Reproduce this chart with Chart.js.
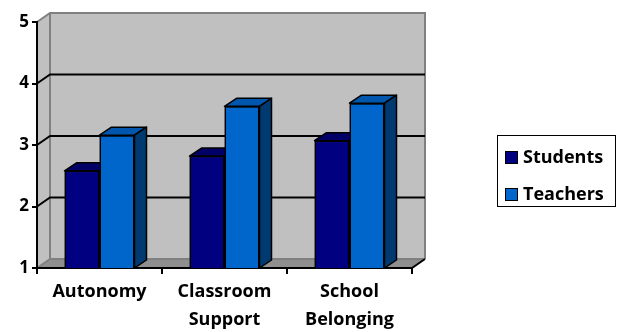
<!DOCTYPE html>
<html>
<head>
<meta charset="utf-8">
<script src="https://cdn.jsdelivr.net/npm/chart.js@4.4.0/dist/chart.umd.min.js"></script>
<style>
    body { margin: 0; background: #fff; }
    #wrap { position: relative; width: 622px; height: 332px; }
    #legend {
        position: absolute; left: 497px; top: 135px; width: 117px; height: 70px;
        border: 1.5px solid #000; font: bold 18px "Open Sans", sans-serif; color: #000;
    }
    #legend .item { position: absolute; left: 7px; height: 20px; line-height: 20px; white-space: nowrap; }
    #legend .box { display: inline-block; width: 11px; height: 11px; border: 1.5px solid #000; margin-right: 5px; vertical-align: -1px; }
</style>
</head>
<body>
<div id="wrap">
    <canvas id="chart" width="622" height="332"></canvas>
    <div id="legend"></div>
</div>
<script>
// Data
const categories = [['Autonomy'], ['Classroom', 'Support'], ['School', 'Belonging']];
const studentScores = [2.58, 2.82, 3.07];
const teacherScores = [3.16, 3.63, 3.68];
const yMin = 1;
const yMax = 5;

// Colours: front, top, side
const seriesColors = [
    { label: 'Students', front: '#000080', top: '#000066', side: '#00004d' },
    { label: 'Teachers', front: '#0066cc', top: '#0057ad', side: '#003a70' },
];

// depth of the box and of the bars
const WALL_DX = 13, WALL_DY = -9;
const BAR_DX = 12, BAR_DY = -8;

function poly(ctx, pts, fill, stroke, lw) {
    ctx.beginPath();
    ctx.moveTo(pts[0][0], pts[0][1]);
    for (let i = 1; i < pts.length; i++) ctx.lineTo(pts[i][0], pts[i][1]);
    ctx.closePath();
    if (fill) { ctx.fillStyle = fill; ctx.fill(); }
    if (stroke) { ctx.strokeStyle = stroke; ctx.lineWidth = lw; ctx.lineJoin = 'round'; ctx.stroke(); }
}

// Back wall, side wall, floor and grid lines
const wallsPlugin = {
    id: 'walls',
    beforeDraw(chart) {
        const ctx = chart.ctx;
        const { left, right, top, bottom } = chart.chartArea;
        const y = chart.scales.y;
        ctx.save();
        // back wall
        poly(ctx, [[left + WALL_DX, top + WALL_DY], [right + WALL_DX, top + WALL_DY],
            [right + WALL_DX, bottom + WALL_DY], [left + WALL_DX, bottom + WALL_DY]], '#c0c0c0');
        // left wall
        poly(ctx, [[left, top], [left + WALL_DX, top + WALL_DY],
            [left + WALL_DX, bottom + WALL_DY], [left, bottom]], '#c0c0c0');
        // floor
        poly(ctx, [[left, bottom], [right, bottom],
            [right + WALL_DX, bottom + WALL_DY], [left + WALL_DX, bottom + WALL_DY]], '#8f8f8f');
        // gray edges
        ctx.strokeStyle = '#808080';
        ctx.lineWidth = 2;
        ctx.beginPath();
        ctx.moveTo(left, top);
        ctx.lineTo(left + WALL_DX, top + WALL_DY);
        ctx.lineTo(right + WALL_DX, top + WALL_DY);
        ctx.lineTo(right + WALL_DX, bottom + WALL_DY);
        ctx.moveTo(left + WALL_DX, top + WALL_DY);
        ctx.lineTo(left + WALL_DX, bottom + WALL_DY);
        ctx.lineTo(left, bottom);
        ctx.moveTo(left + WALL_DX, bottom + WALL_DY);
        ctx.lineTo(right + WALL_DX, bottom + WALL_DY);
        ctx.stroke();
        // grid lines on the walls
        ctx.strokeStyle = '#000';
        ctx.lineWidth = 2;
        y.ticks.forEach((t) => {
            if (t.value <= yMin || t.value >= yMax) return;
            const py = y.getPixelForValue(t.value);
            ctx.beginPath();
            ctx.moveTo(left, py);
            ctx.lineTo(left + WALL_DX, py + WALL_DY);
            ctx.lineTo(right + WALL_DX, py + WALL_DY);
            ctx.stroke();
        });
        // right end of the floor
        ctx.beginPath();
        ctx.moveTo(right, bottom);
        ctx.lineTo(right + WALL_DX, bottom + WALL_DY);
        ctx.stroke();
        ctx.restore();
    },
};

// Redraw bars in order with their top and side faces
const bars3dPlugin = {
    id: 'bars3d',
    afterDatasetsDraw(chart) {
        const ctx = chart.ctx;
        const area = chart.chartArea;
        ctx.save();
        ctx.beginPath();
        ctx.rect(0, 0, chart.width, area.bottom);
        ctx.clip();
        const metas = chart.data.datasets.map((d, i) => chart.getDatasetMeta(i));
        for (let c = 0; c < categories.length; c++) {
            metas.forEach((meta, i) => {
                const el = meta.data[c];
                const col = seriesColors[i];
                const l = el.x - el.width / 2;
                const r = el.x + el.width / 2;
                const t = el.y;
                const b = Math.min(el.base, area.bottom);
                el.draw(ctx);
                poly(ctx, [[l, t], [r, t], [r + BAR_DX, t + BAR_DY], [l + BAR_DX, t + BAR_DY]], col.top, '#000', 1.5);
                poly(ctx, [[r, t], [r + BAR_DX, t + BAR_DY], [r + BAR_DX, b + BAR_DY], [r, b]], col.side, '#000', 1.5);
            });
        }
        ctx.restore();
    },
};

const tickFont = { family: 'Open Sans', weight: 'bold', size: 18, lineHeight: 1.55 };

new Chart(document.getElementById('chart'), {
    type: 'bar',
    data: {
        labels: categories,
        datasets: [
            {
                label: seriesColors[0].label,
                data: studentScores,
                backgroundColor: seriesColors[0].front,
                borderColor: '#000',
                borderWidth: 1.5,
            },
            {
                label: seriesColors[1].label,
                data: teacherScores,
                backgroundColor: seriesColors[1].front,
                borderColor: '#000',
                borderWidth: 1.5,
            },
        ],
    },
    options: {
        responsive: false,
        animation: false,
        layout: { padding: { left: 0, top: 22, right: 210, bottom: 0 } },
        plugins: {
            legend: { display: false },
            tooltip: { enabled: false },
        },
        datasets: {
            bar: { categoryPercentage: 0.56, barPercentage: 1 },
        },
        scales: {
            x: {
                grid: { offset: true, drawOnChartArea: false, tickLength: 6, color: '#000', lineWidth: 2 },
                border: { color: '#000', width: 2 },
                ticks: { font: tickFont, color: '#000', padding: 4, maxRotation: 0, autoSkip: false },
                afterFit: (scale) => { scale.height = 64; },
            },
            y: {
                min: yMin,
                max: yMax,
                grid: { drawOnChartArea: false, tickLength: 5, color: '#000', lineWidth: 2 },
                border: { color: '#000', width: 2 },
                ticks: { stepSize: 1, font: { family: 'Open Sans', weight: 'bold', size: 17 }, color: '#000', padding: 3 },
                afterFit: (scale) => { scale.width = 37; },
            },
        },
    },
    plugins: [wallsPlugin, bars3dPlugin],
});

// Legend
const legend = document.getElementById('legend');
seriesColors.forEach((s, i) => {
    const item = document.createElement('div');
    item.className = 'item';
    item.style.top = (i === 0 ? 10 : 47) + 'px';
    item.innerHTML = `<span class="box" style="background:${s.front}"></span>${s.label}`;
    legend.appendChild(item);
});
</script>
</body>
</html>
